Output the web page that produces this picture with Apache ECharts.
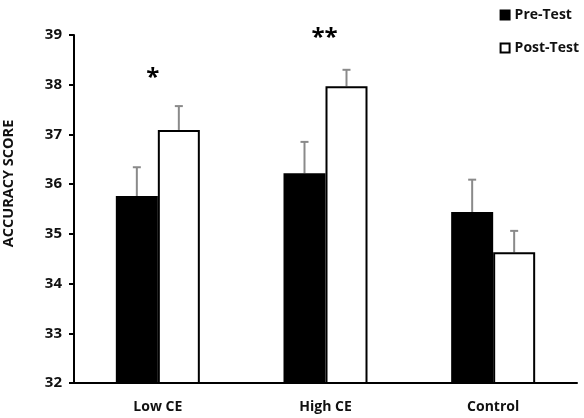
<!DOCTYPE html>
<html><head><meta charset="utf-8">
<script src="https://cdn.jsdelivr.net/npm/echarts@6/dist/echarts.min.js"></script>
<style>html,body{margin:0;padding:0;background:#fff}#c{width:584px;height:418px}</style>
</head><body><div id="c"></div>
<script>
const categories = ['Low CE', 'High CE', 'Control'];
const preTest = [35.76, 36.22, 35.44];
const postTest = [37.09, 37.97, 34.63];
const preErr = [0.58, 0.63, 0.65];
const postErr = [0.48, 0.33, 0.43];
const sigLabels = ['*', '**', ''];
const sigValues = [38.28, 39.08, null];
const yTicks = [32, 33, 34, 35, 36, 37, 38, 39];

const FONT = 'Open Sans';
const chart = echarts.init(document.getElementById('c'));

function errSeries(vals, errs, offset) {
  return {
    type: 'custom',
    name: 'err' + offset,
    silent: true,
    z: 1,
    data: vals.map((v, i) => [i, v, v + errs[i]]),
    renderItem: function (params, api) {
      const base = api.coord([api.value(0), api.value(1)]);
      const top = api.coord([api.value(0), api.value(2)]);
      const x = base[0] + offset;
      const cap = 4;
      return {
        type: 'group',
        children: [
          { type: 'line', shape: { x1: x, y1: base[1], x2: x, y2: top[1] }, style: { stroke: '#8a8a8a', lineWidth: 2 } },
          { type: 'line', shape: { x1: x - cap, y1: top[1], x2: x + cap, y2: top[1] }, style: { stroke: '#8a8a8a', lineWidth: 2 } }
        ]
      };
    }
  };
}

chart.setOption({
  animation: false,
  backgroundColor: '#fff',
  grid: { left: 74, right: 7, top: 35, bottom: 35, containLabel: false, outerBoundsMode: 'none' },
  legend: {
    orient: 'vertical', right: 0, top: 3, itemGap: 19,
    itemWidth: 9, itemHeight: 9, icon: 'rect',
    data: ['Pre-Test', 'Post-Test'],
    textStyle: { fontFamily: FONT, fontWeight: 'bold', fontSize: 14, color: '#111' }
  },
  xAxis: {
    type: 'category', data: categories,
    axisLine: { lineStyle: { color: '#000', width: 2 } },
    axisTick: { show: false },
    axisLabel: { fontFamily: FONT, fontWeight: 'bold', fontSize: 14, color: '#111', margin: 17 }
  },
  yAxis: {
    type: 'value', min: 32, max: 39, interval: 1,
    name: 'ACCURACY SCORE', nameLocation: 'middle', nameGap: 58, nameRotate: 90,
    nameTextStyle: { fontFamily: FONT, fontWeight: 'bold', fontSize: 14.5, color: '#111', padding: [0, 0, 0, 51] },
    axisLine: { show: true, lineStyle: { color: '#000', width: 2 } },
    axisTick: { show: true, length: 5, lineStyle: { color: '#000', width: 2 } },
    splitLine: { show: false },
    axisLabel: { fontFamily: FONT, fontWeight: 'bold', fontSize: 15, color: '#111', margin: 12,
      formatter: v => yTicks.includes(v) ? String(v) : '' }
  },
  series: [
    { name: 'Pre-Test', type: 'bar', data: preTest, barWidth: 42, barGap: '0%', z: 2,
      itemStyle: { color: '#000', borderColor: '#000', borderWidth: 2 } },
    { name: 'Post-Test', type: 'bar', data: postTest, barWidth: 42, barGap: '0%', z: 2,
      itemStyle: { color: '#fff', borderColor: '#000', borderWidth: 2 } },
    errSeries(preTest, preErr, -21),
    errSeries(postTest, postErr, 21),
    {
      type: 'custom', name: 'sig', silent: true, z: 5,
      data: sigValues.map((v, i) => [i, v, sigLabels[i]]),
      renderItem: function (params, api) {
        const i = params.dataIndex;
        if (sigValues[i] == null) return null;
        const p = api.coord([api.value(0), api.value(1)]);
        return { type: 'text', x: p[0] - (i === 0 ? 5 : 1), y: p[1] + 7, style: { text: sigLabels[i], fontFamily: FONT, fontWeight: 'bold', fontSize: 24, fill: '#000', align: 'center', verticalAlign: 'middle' } };
      }
    }
  ]
});
</script></body></html>
